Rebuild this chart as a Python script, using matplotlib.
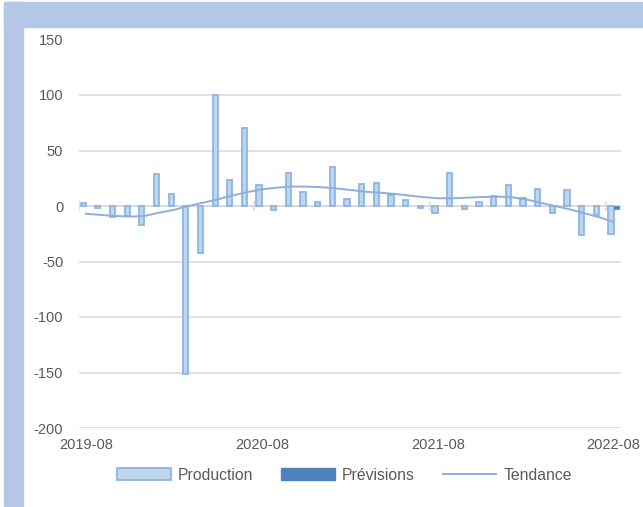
import numpy as np
import matplotlib
matplotlib.use('Agg')
import matplotlib.pyplot as plt
from matplotlib.patches import Rectangle, Patch
from matplotlib.lines import Line2D

# Données
mois = ['2019-08', '2019-09', '2019-10', '2019-11', '2019-12', '2020-01', '2020-02',
        '2020-03', '2020-04', '2020-05', '2020-06', '2020-07', '2020-08', '2020-09',
        '2020-10', '2020-11', '2020-12', '2021-01', '2021-02', '2021-03', '2021-04',
        '2021-05', '2021-06', '2021-07', '2021-08', '2021-09', '2021-10', '2021-11',
        '2021-12', '2022-01', '2022-02', '2022-03', '2022-04', '2022-05', '2022-06',
        '2022-07', '2022-08']
production = [3, -1.5, -9.5, -9, -17, 28.5, 11, -151, -42, 100, 23.5, 70, 19, -4,
              29.5, 12.5, 4, 35, 6, 19.5, 20.5, 9.5, 5.5, -2, -6.5, 30, -3, 3.5,
              9, 18.5, 7.5, 15, -6.5, 14.5, -26.5, -8.5, -25.5]
previsions = [np.nan] * 36 + [-3]
tendance = [-7, -8, -9, -9.5, -9, -6, -3.5, 0, 3, 6, 9.5, 12.5, 15, 16.5, 17.5,
            17.5, 17, 16, 14.5, 13, 12, 11, 9.5, 8, 7, 7, 7.5, 8, 8.5, 8, 6, 3,
            0, -3, -6.5, -10, -14.5]
etiquettes = ['2019-08', '2020-08', '2021-08', '2022-08']

gris = '#595959'
plt.rcParams['font.family'] = ['Liberation Sans', 'DejaVu Sans']
plt.rcParams['axes.unicode_minus'] = False

fig = plt.figure(figsize=(6.43, 5.07), dpi=100)
fig.patch.set_facecolor('white')

# Cadre bleu (haut et gauche)
W, H = 643, 507
bleu = '#b4c7e7'
fig.patches.append(Rectangle((4 / W, 1 - 27 / H), 1 - 4 / W, 25 / H,
                             transform=fig.transFigure, color=bleu, zorder=0))
fig.patches.append(Rectangle((4 / W, 1 / H), 19 / W, 1 - 3 / H,
                             transform=fig.transFigure, color=bleu, zorder=0))

ax = fig.add_axes([78.5 / W, 1 - 428 / H, (621 - 78.5) / W, (428 - 39.5) / H])
ax.set_facecolor('none')

x = np.arange(len(mois))
larg = 0.36
ax.bar(x - larg / 2, production, width=larg, color='#bdd7ee', edgecolor='#8fb4e3',
       linewidth=1.3, zorder=3)
ax.bar(x + larg / 2, previsions, width=larg, color='#4f81bd', edgecolor='#4f81bd',
       linewidth=0.5, zorder=3)
ax.plot(x, tendance, color='#8eaedb', linewidth=1.4, zorder=4)

ax.set_xlim(-0.5, len(mois) - 0.5)
ax.set_ylim(-200, 150)
ax.set_yticks(np.arange(-200, 151, 50))
ax.grid(axis='y', color='#d9d9d9', linewidth=1.1, zorder=0)
ax.set_axisbelow(True)

# Axe horizontal à zéro avec graduations
ax.axhline(0, color='#d9d9d9', linewidth=1.1, zorder=2)
bornes = [i - 0.5 for i in range(0, len(mois), 12)]
ax.vlines(bornes, -4.5, 4.5, color='#d9d9d9', linewidth=1.1, zorder=2)

pos = [mois.index(m) for m in etiquettes]
ax.set_xticks(pos)
ax.set_xticklabels(etiquettes)
ax.tick_params(axis='both', length=0, labelsize=10.5, colors=gris)
ax.tick_params(axis='y', pad=11)
ax.tick_params(axis='x', pad=7)
for s in ax.spines.values():
    s.set_visible(False)

handles = [Patch(facecolor='#bdd7ee', edgecolor='#8fb4e3', linewidth=1.3),
           Patch(facecolor='#4f81bd', edgecolor='#4f81bd'),
           Line2D([], [], color='#8eaedb', linewidth=1.4)]
leg = fig.legend(handles, ['Production', 'Prévisions', 'Tendance'], loc='center',
                 bbox_to_anchor=(344.5 / W, 1 - 475 / H), ncol=3, frameon=False,
                 fontsize=11.3, handlelength=3.4, handleheight=0.75,
                 handletextpad=0.45, columnspacing=1.8, labelcolor=gris)

fig.savefig('out.png', dpi=100)
